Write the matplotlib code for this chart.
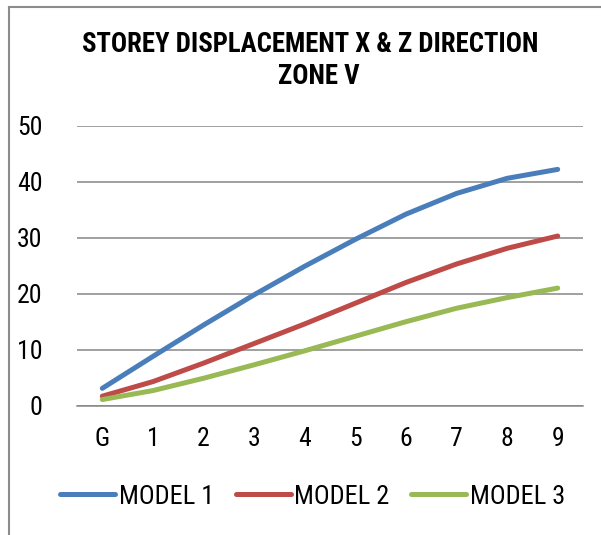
import matplotlib
matplotlib.use("Agg")
import matplotlib.pyplot as plt
from matplotlib.lines import Line2D

categories = ["G", "1", "2", "3", "4", "5", "6", "7", "8", "9"]
model1 = [3.1, 8.8, 14.4, 19.8, 24.9, 29.7, 34.2, 37.9, 40.6, 42.2]
model2 = [1.7, 4.3, 7.6, 11.1, 14.6, 18.3, 22.0, 25.3, 28.1, 30.3]
model3 = [1.1, 2.7, 4.9, 7.3, 9.8, 12.4, 15.0, 17.4, 19.3, 21.0]
series_names = ["MODEL 1", "MODEL 2", "MODEL 3"]
yticks = [0, 10, 20, 30, 40, 50]

fam = ["Roboto Condensed", "DejaVu Sans"]

W, H = 601, 535
fig = plt.figure(figsize=(W / 100, H / 100), dpi=100)
ax = fig.add_axes([77 / W, 1 - 405.7 / H, (583 - 77) / W, (405.7 - 125.7) / H])

colors = ["#4a7ebb", "#be4b48", "#98b954"]
x = list(range(len(categories)))
for vals, c, n in zip([model1, model2, model3], colors, series_names):
    ax.plot(x, vals, color=c, lw=3.6, solid_capstyle="round", label=n)

ax.set_xlim(-0.5, len(categories) - 0.5)
ax.set_ylim(0, 50)
ax.set_yticks(yticks)
ax.set_xticks(x)
ax.set_xticklabels(categories, family=fam, fontsize=18.5)
ax.set_yticklabels([str(v) for v in yticks], family=fam, fontsize=18.5)
ax.tick_params(axis="both", length=0)
ax.tick_params(axis="y", pad=25)
ax.tick_params(axis="x", pad=15)
ax.grid(axis="y", color="#868686", lw=1.1)
ax.set_axisbelow(True)
for s in ["top", "right", "left"]:
    ax.spines[s].set_visible(False)
ax.spines["bottom"].set_color("#868686")
ax.spines["bottom"].set_linewidth(1.1)

fig.text(310 / W, 1 - 44 / H, "STOREY DISPLACEMENT X & Z DIRECTION", ha="center", va="center",
         family=fam, fontsize=19.3, fontweight="bold")
fig.text(319 / W, 1 - 76 / H, "ZONE V", ha="center", va="center",
         family=fam, fontsize=19.3, fontweight="bold")

leg = fig.legend(loc="center", bbox_to_anchor=(312.7 / W, 1 - 496.7 / H), ncol=3, frameon=False,
                 prop={"family": fam, "size": 19}, handlelength=2.08, handletextpad=0.15,
                 columnspacing=0.82, borderaxespad=0, borderpad=0)

# outer chart frame (left and top edges visible)
fig.add_artist(Line2D([9 / W, 9 / W], [0, 1 - 7 / H], transform=fig.transFigure, color="#8c8c8c", lw=1.5))
fig.add_artist(Line2D([9 / W, 1], [1 - 7 / H, 1 - 7 / H], transform=fig.transFigure, color="#8c8c8c", lw=1.5))

fig.savefig("out.png", dpi=100)
